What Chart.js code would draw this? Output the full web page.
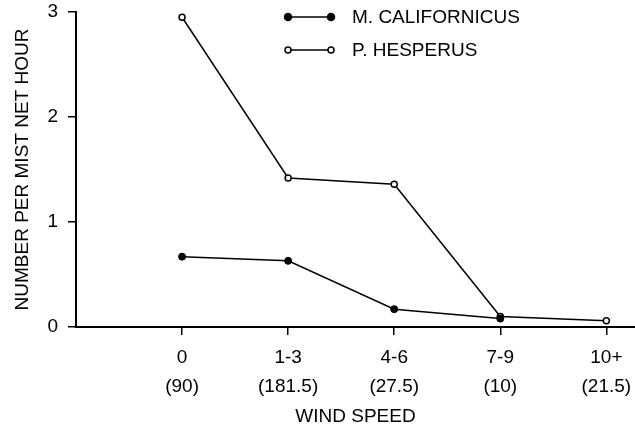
<!DOCTYPE html>
<html>
<head>
<meta charset="utf-8">
<script src="https://cdn.jsdelivr.net/npm/chart.js@4.4.1/dist/chart.umd.min.js"></script>
<style>
  html, body { margin: 0; padding: 0; background: #fff; }
  #wrap { width: 635px; height: 429px; }
</style>
</head>
<body>
<div id="wrap"><canvas id="windChart" width="635" height="429"></canvas></div>
<script>
// wind speed classes and hours of netting (in brackets)
const vitesse = ['0', '1-3', '4-6', '7-9', '10+'];
const heures = ['(90)', '(181.5)', '(27.5)', '(10)', '(21.5)'];
const californicus = [0.67, 0.63, 0.17, 0.08, null];
const hesperus = [2.95, 1.42, 1.36, 0.10, 0.06];
const yTicks = [0, 1, 2, 3];

const police = 'Liberation Sans, Arial, sans-serif';

// petite légende dessinée à la main
const legende = {
  id: 'legende',
  afterDraw(chart) {
    const ctx = chart.ctx;
    const rows = [
      { y: 17, txt: 'M. CALIFORNICUS', plein: true },
      { y: 50, txt: 'P. HESPERUS', plein: false }
    ];
    ctx.save();
    rows.forEach(r => {
      ctx.strokeStyle = '#000';
      ctx.lineWidth = 1.5;
      ctx.beginPath();
      ctx.moveTo(288, r.y);
      ctx.lineTo(331, r.y);
      ctx.stroke();
      [288, 331].forEach(x => {
        ctx.beginPath();
        ctx.arc(x, r.y, r.plein ? 3.5 : 3, 0, Math.PI * 2);
        ctx.fillStyle = r.plein ? '#000' : '#fff';
        ctx.fill();
        ctx.stroke();
      });
      ctx.fillStyle = '#000';
      ctx.font = '19px ' + police;
      ctx.textBaseline = 'middle';
      ctx.fillText(r.txt, 352, r.y + 1);
    });
    ctx.restore();
  }
};

const ctx = document.getElementById('windChart').getContext('2d');
new Chart(ctx, {
  type: 'line',
  data: {
    datasets: [
      {
        label: 'M. CALIFORNICUS',
        data: californicus.map((v, i) => ({ x: i, y: v })),
        borderColor: '#000',
        borderWidth: 1.5,
        pointRadius: 3.5,
        pointBackgroundColor: '#000',
        pointBorderColor: '#000',
        pointBorderWidth: 1,
        tension: 0
      },
      {
        label: 'P. HESPERUS',
        data: hesperus.map((v, i) => ({ x: i, y: v })),
        borderColor: '#000',
        borderWidth: 1.5,
        pointRadius: 3,
        pointBackgroundColor: '#fff',
        pointBorderColor: '#000',
        pointBorderWidth: 1.5,
        tension: 0
      }
    ]
  },
  options: {
    responsive: false,
    animation: false,
    layout: { autoPadding: false, padding: { top: 12, right: 0, left: 0, bottom: 0 } },
    plugins: { legend: { display: false }, tooltip: { enabled: false } },
    scales: {
      x: {
        type: 'linear',
        min: -1,
        max: 4.27,
        afterBuildTicks: s => { s.ticks = vitesse.map((_, i) => ({ value: i })); },
        afterFit: s => { s.height = 102; s.paddingLeft = 0; s.paddingRight = 0; },
        grid: { drawOnChartArea: false, drawTicks: true, tickLength: 8, color: '#000', lineWidth: 1.5 },
        border: { display: true, color: '#000', width: 2 },
        ticks: {
          color: '#000',
          padding: 9,
          maxRotation: 0,
          font: { family: police, size: 19, lineHeight: 1.5 },
          callback: v => [vitesse[v], heures[v]]
        },
        title: {
          display: true,
          text: 'WIND SPEED',
          color: '#000',
          font: { family: police, size: 19 },
          padding: { top: 0, bottom: 1 }
        }
      },
      y: {
        min: 0,
        max: 3,
        afterBuildTicks: s => { s.ticks = yTicks.map(v => ({ value: v })); },
        afterFit: s => { s.width = 76; s.paddingTop = 0; s.paddingBottom = 0; },
        grid: { drawOnChartArea: false, drawTicks: true, tickLength: 8, color: '#000', lineWidth: 1.5 },
        border: { display: true, color: '#000', width: 2 },
        ticks: {
          color: '#000',
          padding: 10,
          font: { family: police, size: 19 }
        },
        title: {
          display: true,
          text: 'NUMBER PER MIST NET HOUR',
          color: '#000',
          font: { family: police, size: 19 },
          padding: { top: 11, bottom: 0 }
        }
      }
    }
  },
  plugins: [legende]
});
</script>
</body>
</html>
